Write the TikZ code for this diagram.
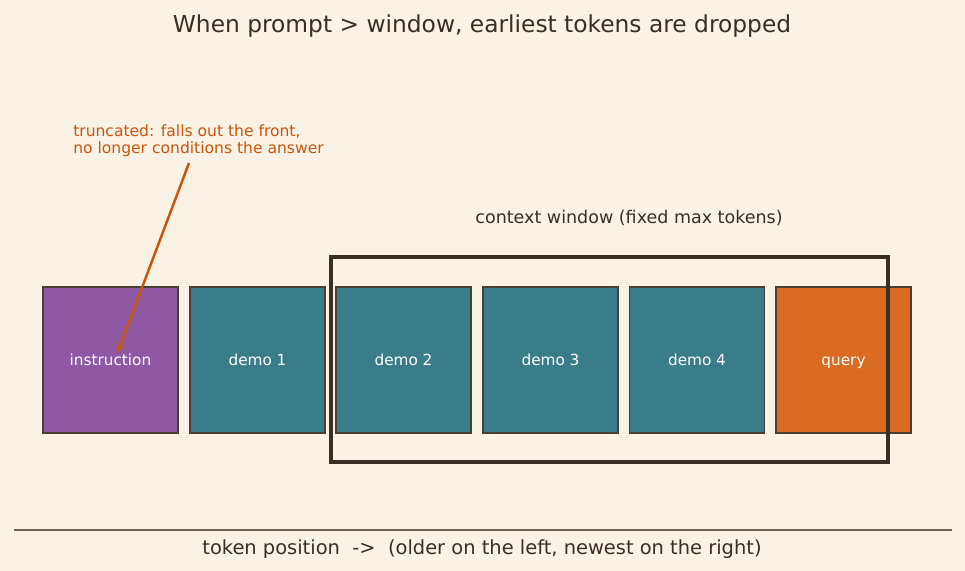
\documentclass[tikz,border=0pt]{standalone}
\usepackage{fontspec}
\setmainfont{DejaVu Sans}
\usetikzlibrary{arrows.meta}
\definecolor{bg}{HTML}{FAF2E4}
\definecolor{ink}{HTML}{3A2F27}
\definecolor{edge}{HTML}{4A3F37}
\definecolor{purp}{HTML}{8E58A2}
\definecolor{teal}{HTML}{3A7D8A}
\definecolor{orng}{HTML}{D96C22}
\definecolor{anno}{HTML}{C8560E}
\definecolor{rule}{HTML}{6E6252}
\tikzset{
  tok/.style={draw=edge, line width=1.1pt, minimum width=135*0.72pt, minimum height=146*0.72pt, inner sep=0pt, text=white, text height=1.45ex, text depth=0pt, font=\fontsize{11}{13}\selectfont},
}
\begin{document}
\begin{tikzpicture}[x=0.72pt,y=-0.72pt]
\fill[bg] (0,0) rectangle (965,571);
\useasboundingbox (0,0) rectangle (965,571);
\node[font=\fontsize{16.8}{19}\selectfont, text=ink] (title) at (482,26.5) {When prompt > window, earliest tokens are dropped};
\node[tok, fill=purp] (ins) at (110.5,360) {instruction};
\node[tok, fill=teal] (d1) at (257.5,360) {demo 1};
\node[tok, fill=teal] (d2) at (403.5,360) {demo 2};
\node[tok, fill=teal] (d3) at (550.5,360) {demo 3};
\node[tok, fill=teal] (d4) at (697,360) {demo 4};
\node[tok, fill=orng] (q) at (843.5,360) {query};
\node[draw=ink, line width=3pt, minimum width=557*0.72pt, minimum height=205*0.72pt, inner sep=0pt] (win) at (609.5,359.5) {};
\node[font=\fontsize{12.6}{14}\selectfont, text=ink] (wl) at (629,218) {context window (fixed max tokens)};
\node[font=\fontsize{11.2}{12.4}\selectfont, text=anno, align=left, anchor=north west, inner sep=0pt] (an) at (73,124) {truncated: falls out the front,\\no longer conditions the answer};
\coordinate (as) at (189,163);
\coordinate (ae) at (117,354);
\draw[anno, line width=1.8pt, -{Stealth[length=8pt,width=6.5pt]}] (as) -- (ae);
\coordinate (l1) at (14,530);
\coordinate (l2) at (952,530);
\draw[rule, line width=1.3pt] (l1) -- (l2);
\node[font=\fontsize{14}{16}\selectfont, text=ink] (xl) at (482,549) {token position\ \ ->\ \ (older on the left, newest on the right)};
\end{tikzpicture}
\end{document}
